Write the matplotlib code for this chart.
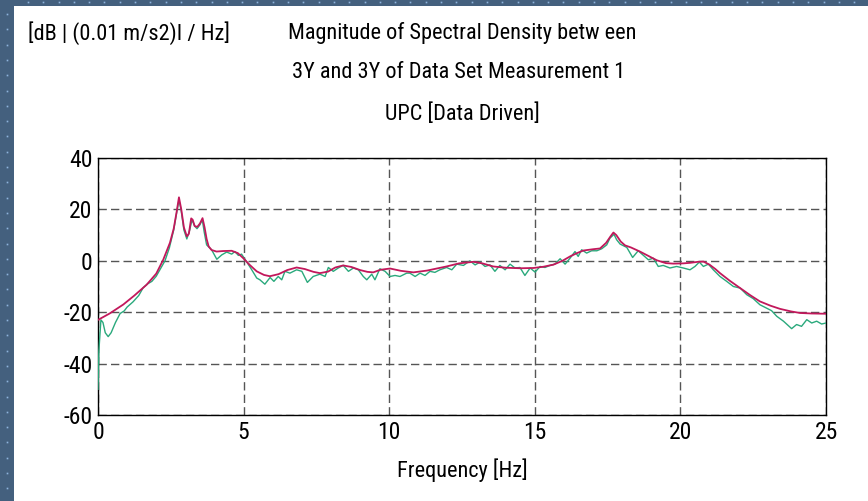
import numpy as np
import matplotlib
matplotlib.use('Agg')
import matplotlib.pyplot as plt
from matplotlib.patches import Rectangle

plt.rcParams['font.family'] = ['Roboto Condensed', 'Archivo Narrow', 'DejaVu Sans']
plt.rcParams['axes.unicode_minus'] = False

# Measured spectrum (noisy, green)
freq_meas = [0.0, 0.03, 0.1, 0.17, 0.25, 0.35, 0.45, 0.6, 0.76, 0.9, 1.0, 1.2, 1.4,
             1.55, 1.7, 1.85, 2.0, 2.15, 2.3, 2.45, 2.6, 2.72, 2.78, 2.85, 2.95,
             3.05, 3.15, 3.23, 3.32, 3.4, 3.5, 3.58, 3.65, 3.73, 3.9, 4.08, 4.25,
             4.42, 4.59, 4.7, 4.82, 4.93, 5.1, 5.28, 5.45, 5.56, 5.73, 5.91, 6.04,
             6.19, 6.31, 6.42, 6.59, 6.82, 7.0, 7.19, 7.39, 7.62, 7.8, 7.91, 8.08,
             8.25, 8.42, 8.6, 8.77, 8.94, 9.11, 9.23, 9.4, 9.51, 9.68, 9.86, 10.03,
             10.2, 10.37, 10.6, 10.71, 10.89, 11.06, 11.23, 11.4, 11.57, 11.74,
             11.97, 12.15, 12.32, 12.55, 12.77, 12.95, 13.12, 13.29, 13.46, 13.63,
             13.8, 13.98, 14.15, 14.32, 14.49, 14.66, 14.84, 15.01, 15.18, 15.35,
             15.52, 15.69, 15.87, 16.04, 16.21, 16.38, 16.49, 16.61, 16.78, 16.95,
             17.13, 17.3, 17.47, 17.58, 17.72, 17.81, 17.93, 18.16, 18.36, 18.55,
             18.73, 18.9, 19.07, 19.24, 19.41, 19.64, 19.87, 20.1, 20.33, 20.5,
             20.65, 20.79, 20.96, 21.13, 21.36, 21.59, 21.82, 22.05, 22.28, 22.5,
             22.73, 22.96, 23.13, 23.31, 23.54, 23.82, 23.99, 24.16, 24.34, 24.51,
             24.68, 24.85, 25.0]
psd_meas = [-50, -35, -23, -24, -28, -29.5, -28, -24, -20.5, -19.5, -18, -16, -13.5,
            -10.5, -9, -8, -6, -3, 0, 5, 12, 20, 23.5, 20, 12,
            8.5, 12, 16, 13.5, 12.5, 14, 16, 11, 6.2, 4.3, 0.6, 2.3,
            3.4, 2.6, 3.6, 2.1, 2.6, -0.3, -3.5, -6.7, -7.4, -9.1, -6.5, -8.0,
            -6.1, -7.4, -4.1, -4.8, -3.5, -4.1, -8.4, -6.1, -5.2, -6.1, -2.6, -4.1,
            -2.8, -1.8, -4.1, -2.8, -3.5, -6.1, -7.4, -5.2, -7.4, -3.1, -4.1, -6.1,
            -5.7, -6.1, -4.8, -4.8, -6.1, -4.8, -5.7, -4.1, -4.5, -3.5,
            -2.6, -3.5, -1.3, -1.8, 0.0, -1.6, -0.5, -2.2, -1.6, -4.1,
            -1.8, -3.5, -1.3, -2.8, -2.6, -5.7, -2.8, -4.4, -2.2, -2.6,
            -1.8, -1.3, 0.8, -1.3, 1.0, 3.6, 1.7, 4.3, 3.0, 3.9,
            3.9, 4.7, 6.2, 8.8, 10.3, 8.2, 6.5, 5.2, 1.3, 3.9,
            2.1, 0.4, 1.0, -2.2, -1.8, -2.8, -2.2, -2.8, -3.5, -2.2,
            -0.5, -2.2, -1.3, -3.5, -6.1, -8.0, -10.0, -10.6, -13.2, -14.7,
            -17.1, -18.4, -19.4, -21.6, -23.5, -26.4, -24.8, -25.5, -22.9, -24.2,
            -23.5, -24.6, -24.2]

# Identified model spectrum (smooth, red)
freq_model = [0.0, 0.4, 0.87, 1.25, 1.67, 2.0, 2.24, 2.47, 2.6, 2.7, 2.78, 2.86, 2.95,
              3.05, 3.12, 3.2, 3.25, 3.32, 3.41, 3.5, 3.59, 3.66, 3.73, 3.8, 3.9,
              4.07, 4.3, 4.59, 4.8, 4.99, 5.2, 5.45, 5.7, 5.9, 6.2, 6.5, 6.82, 7.1,
              7.4, 7.62, 7.9, 8.15, 8.42, 8.7, 9.0, 9.25, 9.45, 9.7, 10.03, 10.4,
              10.83, 11.3, 11.97, 12.4, 12.89, 13.2, 13.57, 14.0, 14.5, 14.95, 15.3,
              15.64, 15.95, 16.21, 16.45, 16.67, 17.0, 17.24, 17.45, 17.6, 17.7,
              17.8, 17.95, 18.1, 18.3, 18.61, 18.9, 19.19, 19.5, 19.76, 20.1, 20.33,
              20.6, 20.79, 21.0, 21.2, 21.36, 21.7, 22.05, 22.4, 22.73, 23.1, 23.42,
              23.8, 24.11, 24.5, 25.0]
psd_model = [-23, -20.5, -17, -13.5, -9.3, -5, 0.4, 7, 12.5, 19, 24.7, 20, 13,
             9.5, 10.5, 16.5, 16, 13.5, 13.2, 14.5, 16.6, 13, 8.5, 5.6, 4.2,
             3.6, 3.8, 3.9, 3.0, 1.0, -1.5, -4.1, -5.5, -6, -5.2, -3.6, -2.6, -3.2,
             -4.3, -4.8, -4.2, -2.6, -1.8, -2.4, -3.6, -4.3, -4.5, -3.5, -3.0, -3.9,
             -4.5, -3.8, -2.2, -1.0, -0.4, -1.0, -2.2, -2.7, -2.9, -2.8, -2.3,
             -1.5, 0.0, 1.7, 3.0, 4.0, 4.5, 4.8, 7.0, 9.5, 11.0,
             10.0, 7.5, 6.0, 5.2, 3.6, 1.9, 0.2, -0.9, -1.1, -1.0, -0.8,
             -0.4, -0.3, -1.5, -3.2, -4.8, -7.8, -10.6, -13.4, -15.8, -17.5, -18.7,
             -19.7, -20.3, -20.5, -20.6]

x_ticks = [0, 5, 10, 15, 20, 25]
y_ticks = [-60, -40, -20, 0, 20, 40]

fig = plt.figure(figsize=(8.68, 5.01), dpi=100)
fig.patch.set_facecolor('white')

# dark dotted frame on the left and top
frame_col = '#44607e'
fig.patches.append(Rectangle((0, 0), 14 / 868, 1, transform=fig.transFigure,
                             facecolor=frame_col, edgecolor='none', zorder=0))
fig.patches.append(Rectangle((0, 1 - 6 / 501), 1, 6 / 501, transform=fig.transFigure,
                             facecolor=frame_col, edgecolor='none', zorder=0))
dot_y = np.arange(14, 501, 15.3)
dot_x = np.arange(28, 868, 15.3)
fig.add_artist(plt.Line2D(np.full(len(dot_y), 6.5 / 868), 1 - dot_y / 501,
                          transform=fig.transFigure, ls='none', marker='s', ms=1.2,
                          color='#8fb4dc', mew=0))
fig.add_artist(plt.Line2D(dot_x / 868, np.full(len(dot_x), 1 - 2 / 501),
                          transform=fig.transFigure, ls='none', marker='s', ms=1.2,
                          color='#8fb4dc', mew=0))

ax = fig.add_axes([98 / 868, 1 - 415 / 501, 728 / 868, 257 / 501])
ax.plot(freq_meas, psd_meas, color='#2aa97c', lw=1.0, zorder=3)
ax.plot(freq_model, psd_model, color='#c2185b', lw=1.3, zorder=4)

ax.set_xlim(0, 25)
ax.set_ylim(-60, 40)
ax.set_xticks(x_ticks)
ax.set_yticks(y_ticks)
ax.tick_params(length=0, labelsize=17, pad=4)
for s in ax.spines.values():
    s.set_color('black')
    s.set_linewidth(1.0)
ax.grid(True, color='#555555', linestyle=(0, (6, 3)), linewidth=1.0)

fig.text(462 / 868, 1 - 33 / 501, 'Magnitude of Spectral Density betw een',
         ha='center', va='center', fontsize=16)
fig.text(459 / 868, 1 - 73 / 501, '3Y and 3Y of Data Set Measurement 1',
         ha='center', va='center', fontsize=16)
fig.text(462 / 868, 1 - 114 / 501, 'UPC [Data Driven]',
         ha='center', va='center', fontsize=16)
fig.text(28 / 868, 1 - 33 / 501, '[dB | (0.01 m/s2)I / Hz]',
         ha='left', va='center', fontsize=16)
fig.text(462 / 868, 1 - 470 / 501, 'Frequency [Hz]',
         ha='center', va='center', fontsize=16)

fig.savefig('out.png', dpi=100)
